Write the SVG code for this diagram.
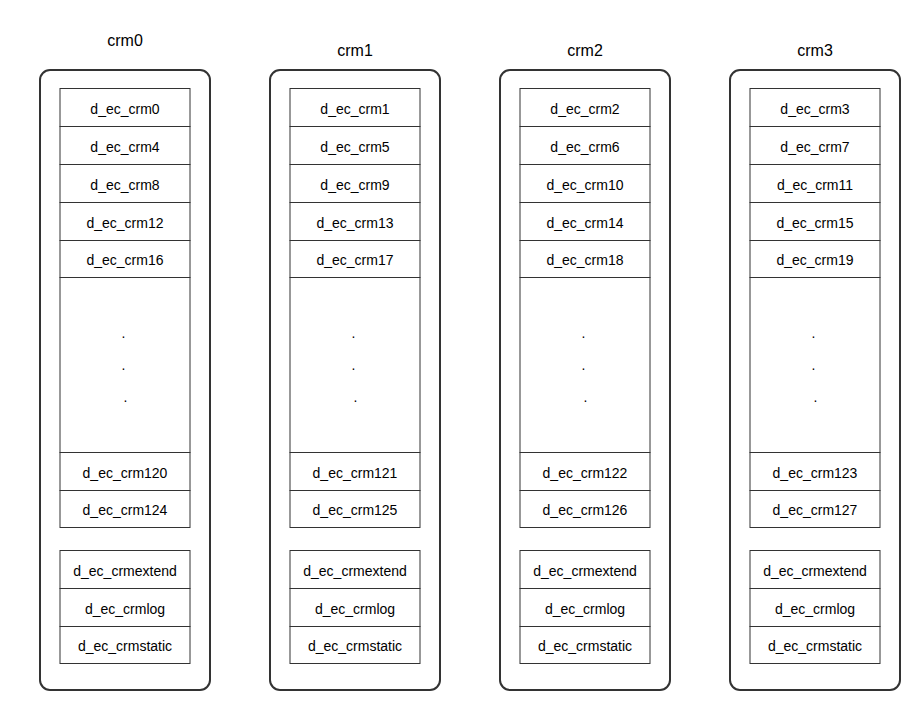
<svg xmlns="http://www.w3.org/2000/svg" width="920" height="710" viewBox="0 0 920 710">
<style>
.frame{fill:#fff;stroke:#333;stroke-width:2}
.cell{fill:#fff;stroke:#333;stroke-width:1}
.t{font-family:"Liberation Sans",Arial,sans-serif;font-size:14px;fill:#000;text-anchor:middle}
.title{font-family:"Liberation Sans",Arial,sans-serif;font-size:16px;fill:#000;text-anchor:middle}
.dot{font-family:"Liberation Sans",Arial,sans-serif;font-size:14px;fill:#000}
</style>
<rect width="920" height="710" fill="#fff"/>
<g id="connectors"></g>

<g id="crm0">
<text class="title" x="125" y="46">crm0</text>
<rect class="frame" x="40" y="70" width="170" height="620" rx="10"/>
<g id="crm0-r0"><rect class="cell" x="60" y="88.5" width="130" height="38"/><text class="t" x="125" y="113.5">d_ec_crm0</text></g>
<g id="crm0-r1"><rect class="cell" x="60" y="126.5" width="130" height="38"/><text class="t" x="125" y="151.5">d_ec_crm4</text></g>
<g id="crm0-r2"><rect class="cell" x="60" y="164.5" width="130" height="38"/><text class="t" x="125" y="189.5">d_ec_crm8</text></g>
<g id="crm0-r3"><rect class="cell" x="60" y="202.5" width="130" height="38"/><text class="t" x="125" y="227.5">d_ec_crm12</text></g>
<g id="crm0-r4"><rect class="cell" x="60" y="240.5" width="130" height="37"/><text class="t" x="125" y="265">d_ec_crm16</text></g>
<g id="crm0-gap"><rect class="cell" x="60" y="277.5" width="130" height="175"/><text class="dot" x="121.5" y="337.8">.</text><text class="dot" x="121.5" y="370">.</text><text class="dot" x="123.5" y="402">.</text></g>
<g id="crm0-r5"><rect class="cell" x="60" y="452.5" width="130" height="38"/><text class="t" x="125" y="477.5">d_ec_crm120</text></g>
<g id="crm0-r6"><rect class="cell" x="60" y="490.5" width="130" height="37"/><text class="t" x="125" y="515">d_ec_crm124</text></g>
<g id="crm0-ext"><rect class="cell" x="60" y="550.5" width="130" height="38"/><text class="t" x="125" y="575.5">d_ec_crmextend</text></g>
<g id="crm0-log"><rect class="cell" x="60" y="588.5" width="130" height="38"/><text class="t" x="125" y="613.5">d_ec_crmlog</text></g>
<g id="crm0-static"><rect class="cell" x="60" y="626.5" width="130" height="37"/><text class="t" x="125" y="651">d_ec_crmstatic</text></g>
</g>

<g id="crm1">
<text class="title" x="355" y="56">crm1</text>
<rect class="frame" x="270" y="70" width="170" height="620" rx="10"/>
<g id="crm1-r0"><rect class="cell" x="290" y="88.5" width="130" height="38"/><text class="t" x="355" y="113.5">d_ec_crm1</text></g>
<g id="crm1-r1"><rect class="cell" x="290" y="126.5" width="130" height="38"/><text class="t" x="355" y="151.5">d_ec_crm5</text></g>
<g id="crm1-r2"><rect class="cell" x="290" y="164.5" width="130" height="38"/><text class="t" x="355" y="189.5">d_ec_crm9</text></g>
<g id="crm1-r3"><rect class="cell" x="290" y="202.5" width="130" height="38"/><text class="t" x="355" y="227.5">d_ec_crm13</text></g>
<g id="crm1-r4"><rect class="cell" x="290" y="240.5" width="130" height="37"/><text class="t" x="355" y="265">d_ec_crm17</text></g>
<g id="crm1-gap"><rect class="cell" x="290" y="277.5" width="130" height="175"/><text class="dot" x="351.5" y="337.8">.</text><text class="dot" x="351.5" y="370">.</text><text class="dot" x="353.5" y="402">.</text></g>
<g id="crm1-r5"><rect class="cell" x="290" y="452.5" width="130" height="38"/><text class="t" x="355" y="477.5">d_ec_crm121</text></g>
<g id="crm1-r6"><rect class="cell" x="290" y="490.5" width="130" height="37"/><text class="t" x="355" y="515">d_ec_crm125</text></g>
<g id="crm1-ext"><rect class="cell" x="290" y="550.5" width="130" height="38"/><text class="t" x="355" y="575.5">d_ec_crmextend</text></g>
<g id="crm1-log"><rect class="cell" x="290" y="588.5" width="130" height="38"/><text class="t" x="355" y="613.5">d_ec_crmlog</text></g>
<g id="crm1-static"><rect class="cell" x="290" y="626.5" width="130" height="37"/><text class="t" x="355" y="651">d_ec_crmstatic</text></g>
</g>

<g id="crm2">
<text class="title" x="585" y="56">crm2</text>
<rect class="frame" x="500" y="70" width="170" height="620" rx="10"/>
<g id="crm2-r0"><rect class="cell" x="520" y="88.5" width="130" height="38"/><text class="t" x="585" y="113.5">d_ec_crm2</text></g>
<g id="crm2-r1"><rect class="cell" x="520" y="126.5" width="130" height="38"/><text class="t" x="585" y="151.5">d_ec_crm6</text></g>
<g id="crm2-r2"><rect class="cell" x="520" y="164.5" width="130" height="38"/><text class="t" x="585" y="189.5">d_ec_crm10</text></g>
<g id="crm2-r3"><rect class="cell" x="520" y="202.5" width="130" height="38"/><text class="t" x="585" y="227.5">d_ec_crm14</text></g>
<g id="crm2-r4"><rect class="cell" x="520" y="240.5" width="130" height="37"/><text class="t" x="585" y="265">d_ec_crm18</text></g>
<g id="crm2-gap"><rect class="cell" x="520" y="277.5" width="130" height="175"/><text class="dot" x="581.5" y="337.8">.</text><text class="dot" x="581.5" y="370">.</text><text class="dot" x="583.5" y="402">.</text></g>
<g id="crm2-r5"><rect class="cell" x="520" y="452.5" width="130" height="38"/><text class="t" x="585" y="477.5">d_ec_crm122</text></g>
<g id="crm2-r6"><rect class="cell" x="520" y="490.5" width="130" height="37"/><text class="t" x="585" y="515">d_ec_crm126</text></g>
<g id="crm2-ext"><rect class="cell" x="520" y="550.5" width="130" height="38"/><text class="t" x="585" y="575.5">d_ec_crmextend</text></g>
<g id="crm2-log"><rect class="cell" x="520" y="588.5" width="130" height="38"/><text class="t" x="585" y="613.5">d_ec_crmlog</text></g>
<g id="crm2-static"><rect class="cell" x="520" y="626.5" width="130" height="37"/><text class="t" x="585" y="651">d_ec_crmstatic</text></g>
</g>

<g id="crm3">
<text class="title" x="815" y="56">crm3</text>
<rect class="frame" x="730" y="70" width="170" height="620" rx="10"/>
<g id="crm3-r0"><rect class="cell" x="750" y="88.5" width="130" height="38"/><text class="t" x="815" y="113.5">d_ec_crm3</text></g>
<g id="crm3-r1"><rect class="cell" x="750" y="126.5" width="130" height="38"/><text class="t" x="815" y="151.5">d_ec_crm7</text></g>
<g id="crm3-r2"><rect class="cell" x="750" y="164.5" width="130" height="38"/><text class="t" x="815" y="189.5">d_ec_crm11</text></g>
<g id="crm3-r3"><rect class="cell" x="750" y="202.5" width="130" height="38"/><text class="t" x="815" y="227.5">d_ec_crm15</text></g>
<g id="crm3-r4"><rect class="cell" x="750" y="240.5" width="130" height="37"/><text class="t" x="815" y="265">d_ec_crm19</text></g>
<g id="crm3-gap"><rect class="cell" x="750" y="277.5" width="130" height="175"/><text class="dot" x="811.5" y="337.8">.</text><text class="dot" x="811.5" y="370">.</text><text class="dot" x="813.5" y="402">.</text></g>
<g id="crm3-r5"><rect class="cell" x="750" y="452.5" width="130" height="38"/><text class="t" x="815" y="477.5">d_ec_crm123</text></g>
<g id="crm3-r6"><rect class="cell" x="750" y="490.5" width="130" height="37"/><text class="t" x="815" y="515">d_ec_crm127</text></g>
<g id="crm3-ext"><rect class="cell" x="750" y="550.5" width="130" height="38"/><text class="t" x="815" y="575.5">d_ec_crmextend</text></g>
<g id="crm3-log"><rect class="cell" x="750" y="588.5" width="130" height="38"/><text class="t" x="815" y="613.5">d_ec_crmlog</text></g>
<g id="crm3-static"><rect class="cell" x="750" y="626.5" width="130" height="37"/><text class="t" x="815" y="651">d_ec_crmstatic</text></g>
</g>
</svg>
